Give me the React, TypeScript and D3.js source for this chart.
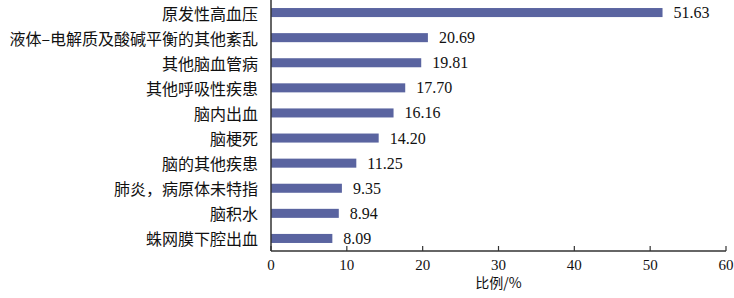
import React from "react";
import * as d3 from "d3";

const categories = [
  "原发性高血压",
  "液体–电解质及酸碱平衡的其他紊乱",
  "其他脑血管病",
  "其他呼吸性疾患",
  "脑内出血",
  "脑梗死",
  "脑的其他疾患",
  "肺炎，病原体未特指",
  "脑积水",
  "蛛网膜下腔出血",
];
const values = [51.63, 20.69, 19.81, 17.7, 16.16, 14.2, 11.25, 9.35, 8.94, 8.09];
const xTicks = [0, 10, 20, 30, 40, 50, 60];
const xTitle = "比例/%";

const W = 734;
const H = 298;
const left = 271;
const right = 726;
const top = 0;
const bottom = 251;
const barColor = "#5a64a0";
const cjk = "'Noto Sans CJK SC', sans-serif";
const serif = "'Liberation Serif', 'DejaVu Serif', serif";

export default function App() {
  const x = d3.scaleLinear().domain([0, 60]).range([left, right]);
  const y = d3.scaleBand().domain(categories).range([top, bottom]).paddingInner(0.64).paddingOuter(0.32);
  const bw = y.bandwidth();
  return (
    <svg width={W} height={H} style={{ position: "absolute", left: 0, top: 0, background: "#fff" }}>
      {categories.map((c, i) => {
        const yc = (y(c) as number) + bw / 2;
        return (
          <g key={c}>
            <rect x={x(0)} y={y(c)} width={x(values[i]) - x(0)} height={bw} fill={barColor} />
            <text x={x(0) - 13} y={yc} textAnchor="end" dominantBaseline="central" fontFamily={cjk} fontSize={16} fill="#111">
              {c}
            </text>
            <text x={x(values[i]) + 11} y={yc} dominantBaseline="central" fontFamily={serif} fontSize={16} fill="#111">
              {values[i].toFixed(2)}
            </text>
          </g>
        );
      })}
      <line x1={left} x2={left} y1={top} y2={bottom} stroke="#333" strokeWidth={1.5} />
      <line x1={left} x2={right} y1={bottom} y2={bottom} stroke="#333" strokeWidth={1.5} />
      {xTicks.map((t) => (
        <g key={t}>
          <line x1={x(t)} x2={x(t)} y1={bottom} y2={bottom - 5} stroke="#333" strokeWidth={1.2} />
          <text x={x(t)} y={bottom + 14} textAnchor="middle" dominantBaseline="central" fontFamily={serif} fontSize={15} fill="#111">
            {t}
          </text>
        </g>
      ))}
      <text x={(left + right) / 2} y={bottom + 31} textAnchor="middle" dominantBaseline="central" fontFamily={cjk} fontSize={14} fill="#111">
        {xTitle}
      </text>
    </svg>
  );
}
